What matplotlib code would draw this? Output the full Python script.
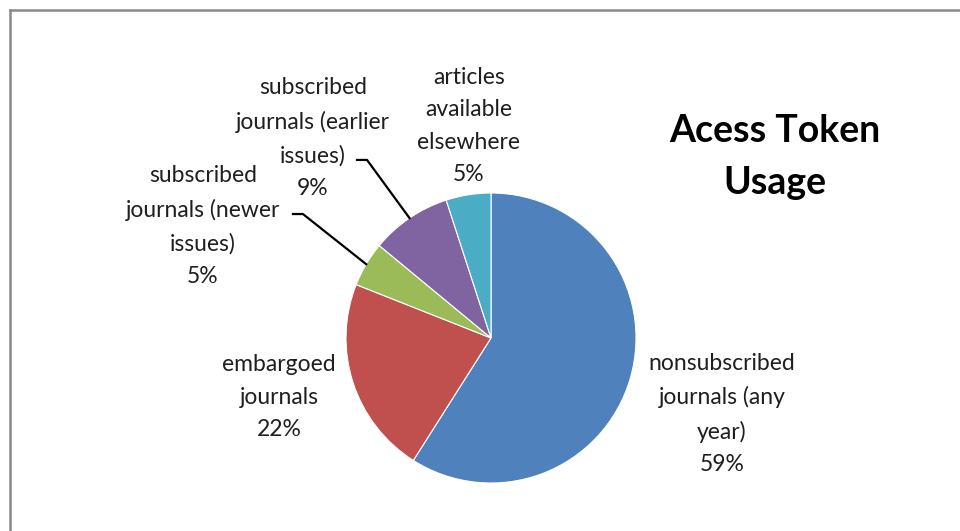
import matplotlib
matplotlib.use("Agg")
import matplotlib.pyplot as plt
import numpy as np
from matplotlib.lines import Line2D

labels = ["nonsubscribed\njournals (any\nyear)",
          "embargoed\njournals",
          "subscribed\njournals (newer\nissues)",
          "subscribed\njournals (earlier\nissues)",
          "articles\navailable\nelsewhere"]
values = [59, 22, 5, 9, 5]
colors = ["#4F81BD", "#C0504D", "#9BBB59", "#8064A2", "#4BACC6"]
title = "Acess Token\nUsage"

# label centres in data units (pie radius = 1)
label_pos = [(1.593, -0.524), (-1.462, -0.407), (-1.986, 0.772),
             (-1.228, 1.379), (-0.152, 1.462)]
# leader elbows for the small slices (index -> elbow, end)
leaders = {2: ((-1.297, 0.855), (-1.366, 0.855)),
           3: ((-0.855, 1.228), (-0.924, 1.228))}

plt.rcParams['font.family'] = ['Lato', 'DejaVu Sans']
W, H = 960, 531
fig = plt.figure(figsize=(W / 100, H / 100), dpi=100)

cx, cy, r = 491, 531 - 338, 145
ax = fig.add_axes([(cx - r) / W, (cy - r) / H, 2 * r / W, 2 * r / H])
wedges, _ = ax.pie(values, colors=colors, startangle=90, counterclock=False,
                   radius=1, wedgeprops=dict(edgecolor="white", linewidth=0.8))
ax.set_xlim(-1, 1)
ax.set_ylim(-1, 1)
ax.set_aspect("equal")
ax.axis("off")

for i, (lab, v) in enumerate(zip(labels, values)):
    x, y = label_pos[i]
    ax.text(x, y, f"{lab}\n{v}%", ha="center", va="center", fontsize=16.5,
            linespacing=1.68, color="#1f1f1f", clip_on=False)
    if i in leaders:
        w = wedges[i]
        mid = np.deg2rad((w.theta1 + w.theta2) / 2)
        p0 = (np.cos(mid), np.sin(mid))
        (ex, ey), (tx, ty) = leaders[i]
        ax.add_line(Line2D([p0[0], ex, tx], [p0[1], ey, ty], color="black",
                           linewidth=1.6, clip_on=False))

fig.text(775 / W, 1 - 157 / H, title, ha="center", va="center", fontsize=27,
         fontweight="bold", linespacing=1.64, color="black")

# outer chart border (top and left edges visible)
fig.add_artist(Line2D([10 / W, 1], [1 - 10 / H, 1 - 10 / H], color="#888888",
                      linewidth=1.8, transform=fig.transFigure))
fig.add_artist(Line2D([10 / W, 10 / W], [0, 1 - 10 / H], color="#888888",
                      linewidth=1.8, transform=fig.transFigure))

fig.savefig("out.png", dpi=100)
